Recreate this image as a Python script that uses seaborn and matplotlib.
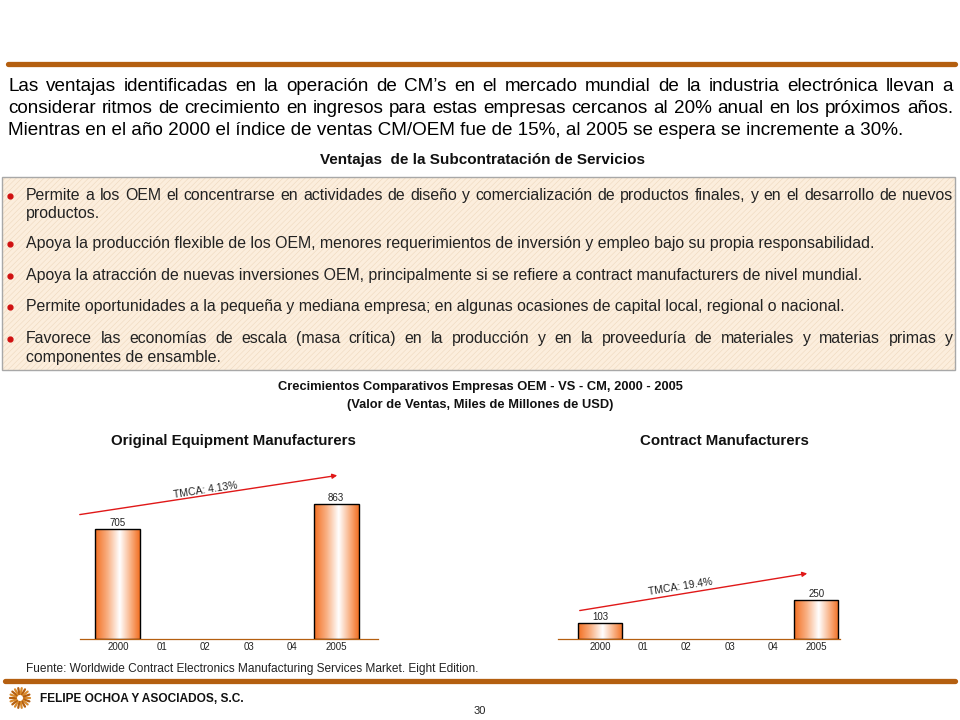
import numpy as np
import pandas as pd
import matplotlib
matplotlib.use("Agg")
import matplotlib.pyplot as plt
import seaborn as sns
from matplotlib.colors import LinearSegmentedColormap
from matplotlib.patches import Rectangle, FancyArrowPatch

# ---- data ----
years = ['2000', '01', '02', '03', '04', '2005']
oem_years = ['2000', '2005']
oem_values = [705, 863]
cm_years = ['2000', '2005']
cm_values = [103, 250]
oem_rate = 'TMCA: 4.13%'
cm_rate = 'TMCA: 19.4%'

paragraph = [
    "Las ventajas identificadas en la operación de CM’s en el mercado mundial de la industria electrónica llevan a",
    "considerar ritmos de crecimiento en ingresos para estas empresas cercanos al 20% anual en los próximos años.",
    "Mientras en el año 2000 el índice de ventas CM/OEM fue de 15%, al 2005 se espera se incremente a 30%.",
]
bullets = [
    ["Permite a los OEM el concentrarse en actividades de diseño y comercialización de productos finales, y en el desarrollo de nuevos",
     "productos."],
    ["Apoya la producción flexible de los OEM, menores requerimientos de inversión y empleo bajo su propia responsabilidad."],
    ["Apoya la atracción de nuevas inversiones OEM, principalmente si se refiere a contract manufacturers de nivel mundial."],
    ["Permite oportunidades a la pequeña y mediana empresa; en algunas ocasiones de capital local, regional o nacional."],
    ["Favorece las economías de escala (masa crítica) en la producción y en la proveeduría de materiales y materias primas y",
     "componentes de ensamble."],
]

BROWN = '#B45F10'
ORANGE = '#F26F22'

sns.set_theme(style='white')
plt.rcParams['font.family'] = ['Liberation Sans', 'DejaVu Sans']
plt.rcParams['hatch.linewidth'] = 0.4

W, H = 960, 720
fig = plt.figure(figsize=(9.6, 7.2), dpi=100)
renderer = fig.canvas.get_renderer()


def px(x, y):
    return x / W, 1 - y / H


def text_line(line, x0, x1, y, justified, **kw):
    # y is the baseline in pixels
    if not justified:
        fig.text(*px(x0, y), line, va='baseline', ha='left', **kw)
        return
    words = line.split(' ')
    texts = [fig.text(*px(x0, y), w, va='baseline', ha='left', **kw) for w in words]
    widths = [t.get_window_extent(renderer).width for t in texts]
    gap = (x1 - x0 - sum(widths)) / max(len(words) - 1, 1)
    x = x0
    for t, w in zip(texts, widths):
        t.set_position(px(x, y))
        x += w + gap


# top rule
fig.add_artist(plt.Line2D([8 / W, 955 / W], [1 - 64 / H] * 2, color=BROWN, lw=3.8))

# paragraph
for i, line in enumerate(paragraph):
    text_line(line, 8, 953, 91 + i * 22, i < 2, fontsize=13.6, color='black')

fig.text(*px(482, 160), 'Ventajas  de la Subcontratación de Servicios', ha='center', va='center',
         fontsize=11, fontweight='bold', color='#111111')

# bullet box
fill = Rectangle(px(2, 370), 953 / W, 193 / H, transform=fig.transFigure,
                 facecolor='#FCEEDD', edgecolor='#EED8BE', lw=0, hatch='//////')
fig.add_artist(fill)
border = Rectangle(px(2, 370), 953 / W, 193 / H, transform=fig.transFigure,
                   facecolor='none', edgecolor='#A8A8A8', lw=1)
fig.add_artist(border)

bullet_y = [[196, 214], [244], [276], [307], [339, 358]]
for lines, ys in zip(bullets, bullet_y):
    fig.add_artist(plt.Line2D([10 / W], [1 - ys[0] / H], marker='o', color='#D01010',
                              markersize=3.5, transform=fig.transFigure))
    for j, (line, y) in enumerate(zip(lines, ys)):
        text_line(line, 26, 953, y + 4, len(lines) > 1 and j == 0,
                  fontsize=11.4, color='#222222')

# chart titles
fig.text(*px(480, 387), 'Crecimientos Comparativos Empresas OEM - VS - CM, 2000 - 2005',
         ha='center', va='center', fontsize=9.3, fontweight='bold', color='#111111')
fig.text(*px(480, 405), '(Valor de Ventas, Miles de Millones de USD)',
         ha='center', va='center', fontsize=9.3, fontweight='bold', color='#111111')
fig.text(*px(233, 441), 'Original Equipment Manufacturers', ha='center', va='center',
         fontsize=10.8, fontweight='bold', color='#111111')
fig.text(*px(724, 441), 'Contract Manufacturers', ha='center', va='center',
         fontsize=10.8, fontweight='bold', color='#111111')

grad = LinearSegmentedColormap.from_list(
    'g', [(0, ORANGE), (0.28, '#F9B083'), (0.55, '#FFFFFF'), (0.8, '#F9B083'), (1, ORANGE)])
grad_img = np.linspace(0, 1, 256).reshape(1, -1)


def bar_chart(left, width, xlim, cats, vals):
    ax = fig.add_axes([left / W, 81 / H, width / W, 179 / H])
    df = pd.DataFrame({'year': cats, 'value': vals})
    sns.barplot(data=df, x='year', y='value', order=years, color=ORANGE,
                width=1.03, edgecolor='black', linewidth=1, ax=ax)
    for p in ax.patches:
        x0, y0 = p.get_x(), p.get_y()
        im = ax.imshow(grad_img, cmap=grad, aspect='auto', zorder=p.get_zorder() + 0.1,
                       extent=[x0, x0 + p.get_width(), y0, y0 + p.get_height()])
        im.set_clip_path(p)
        p.set_facecolor('none')
        p.set_zorder(p.get_zorder() + 0.2)
    ax.bar_label(ax.containers[0], fmt='%d', padding=1, fontsize=7, color='#222222')
    ax.set_xlim(*xlim)
    ax.set_ylim(0, 1147)
    ax.set_xlabel('')
    ax.set_ylabel('')
    ax.set_yticks([])
    ax.tick_params(axis='x', length=0, pad=2, labelsize=7, labelcolor='#222222')
    for s in ['top', 'left', 'right']:
        ax.spines[s].set_visible(False)
    ax.spines['bottom'].set_color(BROWN)
    ax.spines['bottom'].set_linewidth(0.9)
    ax.patch.set_alpha(0)
    return ax


bar_chart(80, 298, (-0.87, 5.96), oem_years, oem_values)
bar_chart(558, 282, (-0.97, 5.55), cm_years, cm_values)


def rate_arrow(start, end, label, mid):
    fig.add_artist(FancyArrowPatch(
        px(*start), px(*end), transform=fig.transFigure, arrowstyle='-|>',
        mutation_scale=7, color='#E01818', lw=1))
    ang = np.degrees(np.arctan2(start[1] - end[1], end[0] - start[0]))
    fig.text(*px(*mid), label, ha='center', va='center', rotation=ang, fontsize=7.5,
             color='#222222', rotation_mode='anchor')


rate_arrow((77, 515), (340, 475), oem_rate, (205, 490))
rate_arrow((577, 611), (810, 573), cm_rate, (680, 587))

# footer
fig.text(*px(26, 669), 'Fuente: Worldwide Contract Electronics Manufacturing Services Market. Eight Edition.',
         ha='left', va='center', fontsize=8.6, color='#222222')
fig.add_artist(plt.Line2D([5 / W, 955 / W], [1 - 681 / H] * 2, color=BROWN, lw=3.8))

cx, cy = 20, 698
for k in range(18):
    a = 2 * np.pi * k / 18
    xs = [cx + 4 * np.cos(a), cx + 10 * np.cos(a)]
    ys = [cy + 4 * np.sin(a), cy + 10 * np.sin(a)]
    fig.add_artist(plt.Line2D([x / W for x in xs], [1 - y / H for y in ys],
                              color=BROWN if k % 2 else '#D98A2B', lw=1.6))
fig.text(*px(40, 699), 'FELIPE OCHOA Y ASOCIADOS, S.C.', ha='left', va='center',
         fontsize=8.6, fontweight='bold', color='#111111')
fig.text(*px(480, 711), '30', ha='center', va='center', fontsize=8, color='#222222')

fig.savefig('out.png', dpi=100)
